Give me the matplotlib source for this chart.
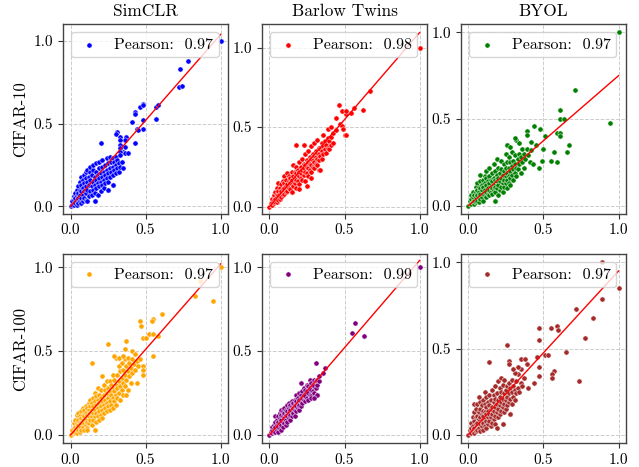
import matplotlib
matplotlib.use("Agg")
import matplotlib.pyplot as plt
import numpy as np

plt.rcParams['font.family'] = 'serif'
plt.rcParams['font.serif'] = ['cmr10', 'DejaVu Serif']
plt.rcParams['mathtext.fontset'] = 'cm'
plt.rcParams['axes.unicode_minus'] = False
plt.rcParams['axes.formatter.use_mathtext'] = True

models = ["SimCLR", "Barlow Twins", "BYOL"]
datasets = ["CIFAR-10", "CIFAR-100"]
colors = [["blue", "red", "green"], ["orange", "purple", "brown"]]
pearson = [[0.97, 0.98, 0.97], [0.97, 0.99, 0.97]]
fit_slope = [[1.04, 1.095, 0.75], [1.02, 1.04, 0.95]]
fit_intercept = [[0.0, 0.0, 0.0], [0.0, 0.0, 0.0]]
ylims = [[(-0.044, 1.103), (-0.044, 1.149), (-0.045, 1.048)],
         [(-0.05, 1.08), (-0.05, 1.08), (-0.05, 1.05)]]
ticks = [0.0, 0.5, 1.0]
tick_labels = ["0.0", "0.5", "1.0"]

simclr_c10 = [
    (0.00,0.00),(0.01,0.01),(0.01,0.03),(0.02,0.01),(0.02,0.04),(0.02,0.06),(0.03,0.02),(0.03,0.05),(0.03,0.08),
    (0.04,0.01),(0.04,0.03),(0.04,0.06),(0.04,0.10),(0.05,0.02),(0.05,0.05),(0.05,0.08),(0.05,0.12),(0.06,0.03),
    (0.06,0.07),(0.06,0.10),(0.06,0.15),(0.07,0.02),(0.07,0.05),(0.07,0.09),(0.07,0.13),(0.07,0.18),(0.08,0.03),
    (0.08,0.07),(0.08,0.11),(0.08,0.16),(0.09,0.05),(0.09,0.09),(0.09,0.14),(0.09,0.19),(0.10,0.04),(0.10,0.08),
    (0.10,0.12),(0.10,0.17),(0.10,0.21),(0.11,0.03),(0.11,0.10),(0.11,0.15),(0.11,0.22),(0.12,0.06),(0.12,0.13),
    (0.12,0.18),(0.13,0.09),(0.13,0.16),(0.13,0.21),(0.13,0.24),(0.14,0.07),(0.14,0.12),(0.14,0.19),(0.15,0.10),
    (0.15,0.15),(0.15,0.22),(0.15,0.25),(0.16,0.03),(0.16,0.08),(0.16,0.13),(0.16,0.18),(0.17,0.11),(0.17,0.16),
    (0.17,0.21),(0.17,0.26),(0.18,0.07),(0.18,0.14),(0.18,0.19),(0.19,0.12),(0.19,0.17),(0.19,0.23),(0.19,0.27),
    (0.20,0.09),(0.20,0.15),(0.20,0.20),(0.21,0.13),(0.21,0.18),(0.21,0.24),(0.21,0.28),(0.22,0.11),(0.22,0.16),
    (0.22,0.21),(0.23,0.14),(0.23,0.19),(0.23,0.25),(0.24,0.17),(0.24,0.22),(0.24,0.29),(0.25,0.10),(0.25,0.15),
    (0.25,0.20),(0.25,0.26),(0.26,0.18),(0.26,0.23),(0.26,0.30),(0.27,0.21),(0.27,0.27),(0.28,0.13),(0.28,0.19),
    (0.28,0.24),(0.28,0.29),(0.29,0.22),(0.29,0.27),(0.30,0.20),(0.30,0.25),(0.30,0.30),(0.31,0.23),(0.31,0.28),
    (0.32,0.21),(0.32,0.26),(0.33,0.24),(0.34,0.27),
    (1.00,1.00),(0.78,0.88),(0.73,0.83),(0.72,0.72),(0.74,0.73),(0.57,0.60),(0.58,0.61),(0.57,0.53),(0.48,0.62),
    (0.46,0.60),(0.48,0.61),(0.43,0.57),(0.43,0.56),(0.41,0.51),(0.48,0.52),(0.48,0.47),(0.44,0.47),(0.45,0.46),
    (0.43,0.38),(0.37,0.42),(0.36,0.40),(0.31,0.45),(0.30,0.44),(0.36,0.36),(0.35,0.33),(0.36,0.32),(0.38,0.32),
    (0.33,0.42),(0.33,0.40),(0.33,0.37),(0.33,0.35),(0.33,0.33),(0.33,0.31),(0.20,0.38),(0.35,0.23),(0.28,0.13),
    (0.25,0.10),(0.16,0.03),(0.11,0.03)]

barlow_c10 = [
    (0.00,0.00),(0.01,0.01),(0.01,0.02),(0.02,0.01),(0.02,0.03),(0.02,0.05),(0.03,0.02),(0.03,0.04),(0.03,0.07),
    (0.04,0.03),(0.04,0.05),(0.04,0.09),(0.05,0.03),(0.05,0.06),(0.05,0.08),(0.05,0.12),(0.06,0.04),(0.06,0.07),
    (0.06,0.10),(0.06,0.15),(0.07,0.05),(0.07,0.08),(0.07,0.12),(0.08,0.06),(0.08,0.10),(0.08,0.14),(0.09,0.07),
    (0.09,0.11),(0.09,0.16),(0.10,0.08),(0.10,0.12),(0.10,0.15),(0.10,0.19),(0.11,0.09),(0.11,0.13),(0.11,0.17),
    (0.12,0.10),(0.12,0.14),(0.12,0.21),(0.13,0.12),(0.13,0.16),(0.13,0.19),(0.14,0.11),(0.14,0.15),(0.14,0.18),
    (0.15,0.09),(0.15,0.14),(0.15,0.17),(0.15,0.22),(0.16,0.13),(0.16,0.19),(0.16,0.26),(0.17,0.15),(0.17,0.18),
    (0.17,0.22),(0.18,0.12),(0.18,0.17),(0.18,0.21),(0.18,0.25),(0.19,0.16),(0.19,0.20),(0.19,0.23),(0.20,0.14),
    (0.20,0.19),(0.20,0.22),(0.20,0.28),(0.21,0.18),(0.21,0.21),(0.21,0.25),(0.22,0.17),(0.22,0.23),(0.22,0.30),
    (0.23,0.20),(0.23,0.24),(0.23,0.27),(0.24,0.16),(0.24,0.22),(0.24,0.26),(0.24,0.33),(0.25,0.21),(0.25,0.25),
    (0.25,0.29),(0.26,0.19),(0.26,0.24),(0.26,0.28),(0.26,0.35),(0.27,0.23),(0.27,0.27),(0.27,0.31),(0.28,0.22),
    (0.28,0.26),(0.28,0.30),(0.28,0.38),(0.29,0.25),(0.29,0.29),(0.29,0.33),(0.30,0.24),(0.30,0.28),(0.30,0.32),
    (0.30,0.40),(0.31,0.27),(0.31,0.31),(0.31,0.35),(0.32,0.26),(0.32,0.30),(0.32,0.34),(0.32,0.42),(0.33,0.23),
    (0.33,0.29),(0.33,0.33),(0.33,0.37),(0.34,0.32),(0.34,0.36),(0.35,0.30),(0.35,0.35),(0.35,0.40),(0.36,0.33),
    (0.36,0.38),(0.37,0.36),(0.37,0.41),(0.38,0.34),(0.38,0.39),(0.39,0.37),(0.39,0.43),(0.40,0.36),(0.40,0.41),
    (0.41,0.39),(0.41,0.44),(0.42,0.40),(0.42,0.46),
    (1.00,1.00),(0.67,0.73),(0.62,0.61),(0.56,0.62),(0.54,0.59),(0.51,0.58),(0.46,0.64),(0.48,0.60),(0.51,0.60),
    (0.44,0.56),(0.47,0.52),(0.48,0.51),(0.50,0.45),(0.51,0.45),(0.49,0.49),(0.39,0.49),(0.41,0.50),(0.23,0.39),
    (0.18,0.39),(0.28,0.18),(0.25,0.13),(0.20,0.11),(0.34,0.23),(0.36,0.45),(0.44,0.48)]

byol_c10 = [
    (0.00,0.00),(0.01,0.01),(0.01,0.03),(0.02,0.01),(0.02,0.04),(0.02,0.06),(0.03,0.02),(0.03,0.05),(0.03,0.08),
    (0.04,0.01),(0.04,0.03),(0.04,0.06),(0.05,0.02),(0.05,0.05),(0.05,0.08),(0.05,0.11),(0.06,0.03),(0.06,0.06),
    (0.06,0.09),(0.06,0.13),(0.07,0.02),(0.07,0.05),(0.07,0.08),(0.07,0.11),(0.08,0.04),(0.08,0.07),(0.08,0.10),
    (0.08,0.14),(0.08,0.18),(0.09,0.05),(0.09,0.09),(0.09,0.12),(0.10,0.03),(0.10,0.07),(0.10,0.11),(0.10,0.15),
    (0.11,0.06),(0.11,0.09),(0.11,0.13),(0.11,0.17),(0.12,0.05),(0.12,0.08),(0.12,0.12),(0.12,0.16),(0.12,0.20),
    (0.13,0.07),(0.13,0.10),(0.13,0.14),(0.14,0.06),(0.14,0.09),(0.14,0.13),(0.14,0.17),(0.14,0.22),(0.15,0.08),
    (0.15,0.11),(0.15,0.15),(0.16,0.07),(0.16,0.10),(0.16,0.14),(0.16,0.19),(0.17,0.09),(0.17,0.12),(0.17,0.16),
    (0.17,0.24),(0.18,0.03),(0.18,0.08),(0.18,0.11),(0.18,0.15),(0.18,0.20),(0.19,0.10),(0.19,0.14),(0.19,0.18),
    (0.19,0.27),(0.20,0.06),(0.20,0.12),(0.20,0.16),(0.20,0.22),(0.21,0.09),(0.21,0.14),(0.21,0.19),(0.22,0.11),
    (0.22,0.16),(0.22,0.21),(0.22,0.26),(0.23,0.08),(0.23,0.13),(0.23,0.18),(0.24,0.11),(0.24,0.15),(0.24,0.20),
    (0.24,0.24),(0.25,0.13),(0.25,0.17),(0.25,0.22),(0.25,0.30),(0.26,0.10),(0.26,0.15),(0.26,0.19),(0.26,0.25),
    (0.26,0.35),(0.27,0.13),(0.27,0.17),(0.27,0.22),(0.27,0.28),(0.28,0.12),(0.28,0.16),(0.28,0.20),(0.28,0.25),
    (0.29,0.18),(0.29,0.23),(0.29,0.31),(0.30,0.15),(0.30,0.21),(0.30,0.26),(0.31,0.19),(0.31,0.24),(0.31,0.29),
    (0.32,0.17),(0.32,0.22),(0.32,0.38),(0.33,0.21),(0.33,0.27),(0.34,0.24),(0.34,0.30),(0.35,0.19),(0.35,0.28),
    (0.36,0.25),(0.36,0.33),(0.37,0.22),(0.37,0.30),(0.38,0.27),(0.39,0.33),(0.40,0.29),(0.41,0.25),(0.42,0.32),
    (1.00,1.00),(0.94,0.48),(0.71,0.67),(0.61,0.55),(0.61,0.50),(0.64,0.50),(0.59,0.42),(0.61,0.42),(0.61,0.40),
    (0.67,0.35),(0.66,0.31),(0.57,0.31),(0.59,0.25),(0.55,0.26),(0.47,0.22),(0.49,0.26),(0.43,0.24),(0.51,0.40),
    (0.44,0.46),(0.48,0.44),(0.39,0.43),(0.39,0.41),(0.31,0.39),(0.26,0.35),(0.28,0.34),(0.34,0.36),(0.18,0.025),
    (0.45,0.35),(0.50,0.33),(0.42,0.37)]

simclr_c100 = [
    (0.00,0.00),(0.01,0.01),(0.01,0.03),(0.02,0.01),(0.02,0.04),(0.02,0.07),(0.03,0.02),(0.03,0.05),(0.03,0.09),
    (0.04,0.01),(0.04,0.04),(0.04,0.07),(0.04,0.12),(0.05,0.03),(0.05,0.06),(0.05,0.09),(0.05,0.13),(0.06,0.02),
    (0.06,0.05),(0.06,0.08),(0.06,0.11),(0.07,0.03),(0.07,0.07),(0.07,0.10),(0.07,0.14),(0.08,0.05),(0.08,0.09),
    (0.08,0.12),(0.08,0.16),(0.09,0.03),(0.09,0.07),(0.09,0.11),(0.09,0.15),(0.10,0.06),(0.10,0.09),(0.10,0.13),
    (0.10,0.17),(0.11,0.04),(0.11,0.08),(0.11,0.12),(0.11,0.16),(0.12,0.07),(0.12,0.11),(0.12,0.15),(0.12,0.19),
    (0.13,0.09),(0.13,0.13),(0.13,0.17),(0.13,0.21),(0.14,0.06),(0.14,0.11),(0.14,0.15),(0.14,0.19),(0.15,0.09),
    (0.15,0.13),(0.15,0.17),(0.15,0.22),(0.16,0.03),(0.16,0.11),(0.16,0.15),(0.16,0.20),(0.16,0.25),(0.17,0.08),
    (0.17,0.13),(0.17,0.18),(0.17,0.23),(0.18,0.11),(0.18,0.16),(0.18,0.21),(0.18,0.28),(0.19,0.09),(0.19,0.14),
    (0.19,0.19),(0.19,0.24),(0.20,0.12),(0.20,0.17),(0.20,0.22),(0.20,0.27),(0.21,0.10),(0.21,0.15),(0.21,0.20),
    (0.21,0.35),(0.22,0.13),(0.22,0.18),(0.22,0.24),(0.22,0.30),(0.23,0.16),(0.23,0.21),(0.23,0.27),(0.24,0.14),
    (0.24,0.19),(0.24,0.25),(0.24,0.32),(0.25,0.17),(0.25,0.22),(0.25,0.28),(0.26,0.15),(0.26,0.20),(0.26,0.26),
    (0.26,0.32),(0.27,0.18),(0.27,0.24),(0.27,0.30),(0.28,0.16),(0.28,0.22),(0.28,0.28),(0.28,0.36),(0.29,0.20),
    (0.29,0.26),(0.29,0.33),(0.30,0.18),(0.30,0.24),(0.30,0.30),(0.30,0.46),(0.31,0.22),(0.31,0.28),(0.31,0.36),
    (0.32,0.25),(0.32,0.32),(0.32,0.41),(0.33,0.21),(0.33,0.29),(0.33,0.38),(0.34,0.27),(0.34,0.34),(0.34,0.43),
    (0.35,0.24),(0.35,0.31),(0.35,0.39),(0.36,0.29),(0.36,0.36),(0.36,0.45),(0.37,0.33),(0.37,0.41),(0.38,0.27),
    (0.38,0.38),(0.38,0.46),(0.39,0.35),(0.39,0.43),(0.40,0.31),(0.40,0.40),(0.41,0.37),(0.41,0.45),(0.42,0.42),
    (0.43,0.39),(0.44,0.44),(0.45,0.41),(0.46,0.45),
    (1.00,1.00),(0.86,0.92),(0.83,0.83),(0.95,0.80),(0.61,0.72),(0.55,0.69),(0.54,0.68),(0.46,0.68),(0.47,0.65),
    (0.52,0.60),(0.55,0.60),(0.58,0.59),(0.48,0.58),(0.50,0.58),(0.55,0.47),(0.37,0.56),(0.25,0.54),(0.14,0.43),
    (0.36,0.51),(0.29,0.47),(0.32,0.46),(0.35,0.47),(0.48,0.41),(0.48,0.39),(0.48,0.36),(0.44,0.31),(0.37,0.24),
    (0.16,0.03),(0.11,0.03),(0.41,0.50),(0.43,0.48)]

barlow_c100 = [
    (0.00,0.00),(0.01,0.01),(0.01,0.02),(0.02,0.01),(0.02,0.03),(0.02,0.05),(0.03,0.02),(0.03,0.04),(0.03,0.06),
    (0.04,0.02),(0.04,0.05),(0.04,0.08),(0.04,0.11),(0.05,0.03),(0.05,0.06),(0.05,0.09),(0.06,0.02),(0.06,0.05),
    (0.06,0.08),(0.06,0.11),(0.07,0.04),(0.07,0.07),(0.07,0.10),(0.07,0.13),(0.08,0.03),(0.08,0.06),(0.08,0.09),
    (0.08,0.12),(0.08,0.15),(0.09,0.05),(0.09,0.08),(0.09,0.11),(0.09,0.14),(0.10,0.07),(0.10,0.10),(0.10,0.13),
    (0.10,0.16),(0.11,0.06),(0.11,0.09),(0.11,0.12),(0.11,0.15),(0.12,0.08),(0.12,0.11),(0.12,0.14),(0.12,0.18),
    (0.13,0.10),(0.13,0.13),(0.13,0.16),(0.13,0.19),(0.14,0.09),(0.14,0.12),(0.14,0.15),(0.14,0.18),(0.15,0.11),
    (0.15,0.14),(0.15,0.17),(0.15,0.20),(0.16,0.13),(0.16,0.16),(0.16,0.19),(0.17,0.11),(0.17,0.15),(0.17,0.18),
    (0.17,0.21),(0.18,0.14),(0.18,0.17),(0.18,0.20),(0.18,0.24),(0.19,0.16),(0.19,0.19),(0.19,0.22),(0.20,0.15),
    (0.20,0.18),(0.20,0.21),(0.20,0.25),(0.21,0.17),(0.21,0.20),(0.21,0.24),(0.21,0.31),(0.22,0.19),(0.22,0.22),
    (0.22,0.26),(0.23,0.21),(0.23,0.24),(0.23,0.28),(0.24,0.20),(0.24,0.23),(0.24,0.27),(0.25,0.22),(0.25,0.26),
    (0.25,0.30),(0.26,0.21),(0.26,0.25),(0.26,0.29),(0.27,0.24),(0.27,0.28),(0.27,0.33),(0.28,0.23),(0.28,0.27),
    (0.28,0.31),(0.29,0.26),(0.29,0.30),(0.30,0.25),(0.30,0.29),(0.30,0.33),(0.31,0.28),(0.31,0.32),(0.32,0.24),
    (0.32,0.30),(0.32,0.33),(0.33,0.32),(0.33,0.35),
    (1.00,1.00),(0.57,0.67),(0.55,0.61),(0.63,0.59),(0.31,0.43),(0.37,0.40),(0.36,0.37),(0.32,0.24),(0.28,0.22),
    (0.30,0.22)]

byol_c100 = [
    (0.00,0.00),(0.01,0.01),(0.01,0.03),(0.02,0.01),(0.02,0.04),(0.02,0.07),(0.03,0.02),(0.03,0.05),(0.03,0.10),
    (0.04,0.01),(0.04,0.04),(0.04,0.08),(0.04,0.13),(0.04,0.18),(0.05,0.02),(0.05,0.06),(0.05,0.10),(0.05,0.15),
    (0.06,0.03),(0.06,0.07),(0.06,0.11),(0.06,0.18),(0.07,0.04),(0.07,0.09),(0.07,0.13),(0.07,0.22),(0.08,0.02),
    (0.08,0.06),(0.08,0.10),(0.08,0.15),(0.08,0.19),(0.09,0.05),(0.09,0.08),(0.09,0.12),(0.09,0.17),(0.10,0.03),
    (0.10,0.07),(0.10,0.11),(0.10,0.14),(0.10,0.20),(0.11,0.05),(0.11,0.09),(0.11,0.13),(0.11,0.18),(0.11,0.25),
    (0.12,0.04),(0.12,0.08),(0.12,0.12),(0.12,0.16),(0.12,0.22),(0.13,0.06),(0.13,0.10),(0.13,0.14),(0.13,0.19),
    (0.14,0.08),(0.14,0.12),(0.14,0.17),(0.14,0.23),(0.15,0.05),(0.15,0.10),(0.15,0.15),(0.15,0.20),(0.16,0.07),
    (0.16,0.12),(0.16,0.16),(0.16,0.26),(0.17,0.09),(0.17,0.14),(0.17,0.19),(0.17,0.23),(0.18,0.06),(0.18,0.11),
    (0.18,0.16),(0.18,0.21),(0.18,0.28),(0.19,0.04),(0.19,0.13),(0.19,0.18),(0.19,0.24),(0.20,0.10),(0.20,0.15),
    (0.20,0.20),(0.20,0.31),(0.21,0.12),(0.21,0.17),(0.21,0.22),(0.21,0.27),(0.22,0.14),(0.22,0.19),(0.22,0.25),
    (0.22,0.33),(0.23,0.06),(0.23,0.16),(0.23,0.21),(0.23,0.29),(0.24,0.13),(0.24,0.18),(0.24,0.24),(0.24,0.32),
    (0.25,0.15),(0.25,0.20),(0.25,0.26),(0.26,0.17),(0.26,0.22),(0.26,0.28),(0.27,0.19),(0.27,0.24),(0.27,0.30),
    (0.28,0.12),(0.28,0.21),(0.28,0.27),(0.29,0.18),(0.29,0.25),(0.29,0.32),(0.30,0.22),(0.30,0.28),(0.31,0.20),
    (0.31,0.26),(0.32,0.24),(0.32,0.31),(0.33,0.27),(0.33,0.35),(0.34,0.25),(0.35,0.30),(0.36,0.28),(0.37,0.33),
    (0.89,1.00),(1.00,0.85),(0.89,0.79),(0.83,0.68),(0.72,0.73),(0.78,0.56),(0.74,0.31),(0.65,0.48),(0.59,0.63),
    (0.60,0.61),(0.55,0.62),(0.47,0.62),(0.47,0.55),(0.51,0.46),(0.53,0.46),(0.57,0.37),(0.56,0.35),(0.56,0.33),
    (0.47,0.39),(0.47,0.34),(0.44,0.30),(0.46,0.45),(0.39,0.41),(0.35,0.44),(0.38,0.44),(0.26,0.52),(0.14,0.42),
    (0.27,0.43),(0.27,0.41),(0.35,0.38),(0.33,0.39),(0.40,0.27),(0.23,0.06),(0.28,0.12),(0.31,0.36),(0.30,0.38)]

panel_data = [[simclr_c10, barlow_c10, byol_c10], [simclr_c100, barlow_c100, byol_c100]]

fig, axes = plt.subplots(2, 3, figsize=(6.39, 4.67), dpi=100)
fig.subplots_adjust(left=0.0986, right=0.9797, bottom=0.0507, top=0.9486, wspace=0.204, hspace=0.212)

for r in range(2):
    for c in range(3):
        ax = axes[r, c]
        pts = np.array(panel_data[r][c])
        x, y = pts[:, 0], pts[:, 1]
        ax.grid(True, linestyle='--', color='#cccccc', linewidth=0.7, zorder=0)
        ax.set_axisbelow(True)
        ax.scatter(x, y, s=14, c=colors[r][c], edgecolors='white', linewidths=0.35,
                   label=f"Pearson:  {pearson[r][c]:.2f}", zorder=2)
        xl = np.array([x.min(), x.max()])
        ax.plot(xl, fit_slope[r][c] * xl + fit_intercept[r][c], color='red', linewidth=1.0, zorder=3)
        ax.set_xlim(-0.05, 1.05)
        ax.set_ylim(*ylims[r][c])
        ax.set_xticks(ticks)
        ax.set_xticklabels(tick_labels)
        ax.set_yticks(ticks)
        ax.set_yticklabels(tick_labels)
        ax.tick_params(labelsize=11, length=3.5, width=0.8, color='#333333')
        for sp in ax.spines.values():
            sp.set_color('#444444')
            sp.set_linewidth(1.0)
        leg = ax.legend(loc='upper left', fontsize=11.5, framealpha=0.8, edgecolor='#cccccc',
                        handlelength=1.6, handletextpad=0.75, borderpad=0.35)
        leg.set_zorder(5)
        if r == 0:
            ax.set_title(models[c], fontsize=12.5)
        if c == 0:
            ax.set_ylabel(datasets[r], fontsize=12)

fig.savefig("out.png", dpi=100)
